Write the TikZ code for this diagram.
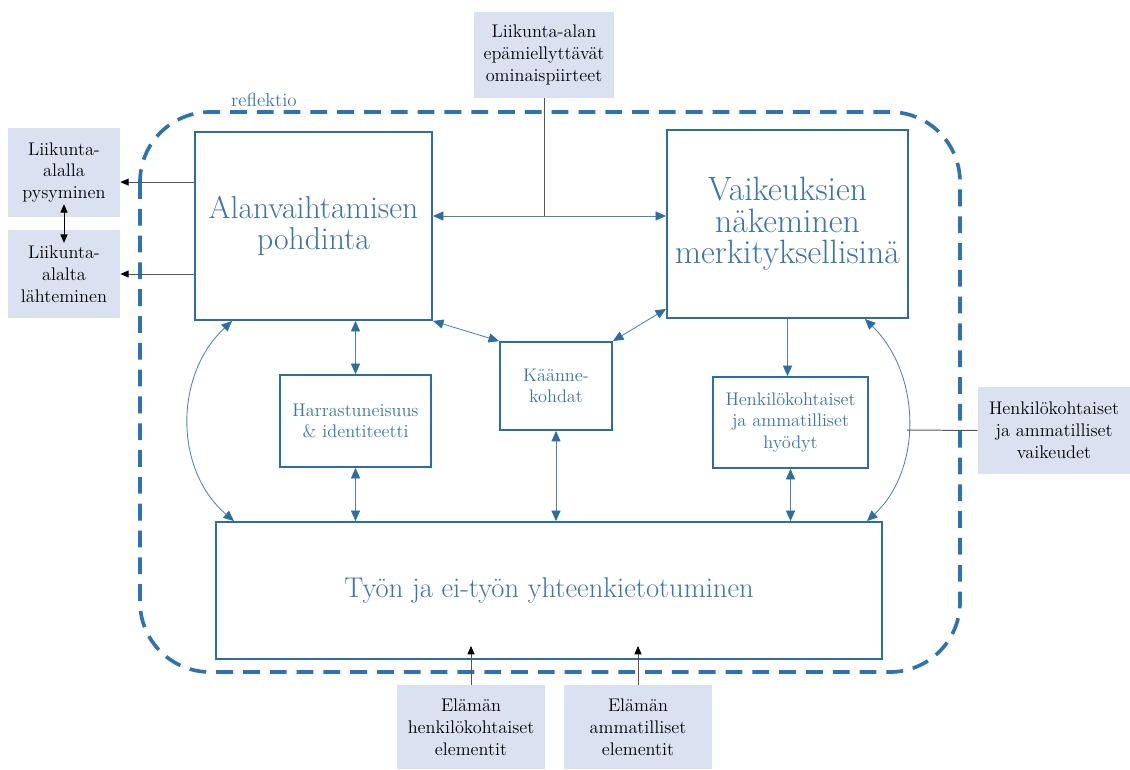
\documentclass[tikz,border=0pt]{standalone}
\usepackage{xcolor}
\definecolor{mapBlue}{HTML}{2E6DA4}
\definecolor{mapBlueText}{HTML}{3A74AA}
\definecolor{mapBlueLine}{HTML}{4A82B8}
\definecolor{mapFrame}{HTML}{2F72B0}
\definecolor{mapSide}{HTML}{DAE2F1}
\definecolor{mapGray}{HTML}{555555}
\usepackage{tikz}
\usetikzlibrary{arrows.meta,calc,positioning}

\begin{document}
\begin{tikzpicture}[x=0.025cm,y=-0.025cm]
  \tikzset{
    mainbox/.style={
      draw=mapBlue,
      line width=1.3pt,
      fill=white,
      text=mapBlueText,
      align=center,
      inner sep=0pt,
    },
    sidebox/.style={
      fill=mapSide,
      text=black,
      align=center,
      inner sep=0pt,
      font=\fontsize{13}{15.5}\selectfont,
    },
    bluearrow/.style={
      draw=mapBlueLine,
      line width=0.6pt,
      {Triangle[length=7.5pt,width=6.5pt,mapBlue]}-{Triangle[length=7.5pt,width=6.5pt,mapBlue]},
    },
    blueone/.style={
      draw=mapBlueLine,
      line width=0.6pt,
      -{Triangle[length=7.5pt,width=6.5pt,mapBlue]},
    },
    blackarrow/.style={
      draw=mapGray,
      line width=0.7pt,
      -{Triangle[length=6pt,width=5pt,black]},
    },
    blackboth/.style={
      draw=black,
      line width=0.7pt,
      {Triangle[length=6pt,width=5pt,black]}-{Triangle[length=6pt,width=5pt,black]},
    },
    grayline/.style={
      draw=mapGray,
      line width=0.7pt,
    },
    reflframe/.style={
      draw=mapFrame,
      line width=2.6pt,
      rounded corners=1.75cm,
      dash pattern=on 0.42cm off 0.25cm,
    },
  }

  \path[use as bounding box] (0,0) rectangle (1130,769);

  % reflection frame
  \draw[reflframe] (140,112) rectangle (960,672);
  \node[font=\fontsize{13.5}{15}\selectfont,text=mapBlueText] (refl) at (264,100) {reflektio};

  % main boxes
  \node[mainbox,minimum width=5.925cm,minimum height=4.7cm,
    font=\fontsize{22.5}{21.5}\selectfont] (alan) at (313.5,226)
    {Alanvaihtamisen\\pohdinta};
  \node[mainbox,minimum width=6.025cm,minimum height=4.7cm,
    font=\fontsize{24}{22.5}\selectfont] (vaik) at (787.5,224)
    {Vaikeuksien\\näkeminen\\merkityksellisinä};
  \node[mainbox,minimum width=3.775cm,minimum height=2.3cm,
    font=\fontsize{13}{15}\selectfont] (harr) at (355.5,421)
    {Harrastuneisuus\\\& identiteetti};
  \node[mainbox,minimum width=2.8cm,minimum height=2.2cm,
    font=\fontsize{13}{15}\selectfont] (kaan) at (556,386)
    {Käänne-\\kohdat};
  \node[mainbox,minimum width=3.875cm,minimum height=2.275cm,
    font=\fontsize{13}{15}\selectfont] (hyod) at (790.5,422.5)
    {Henkilökohtaiset\\ja ammatilliset\\hyödyt};
  \node[mainbox,minimum width=16.65cm,minimum height=3.425cm,
    font=\fontsize{20.3}{22}\selectfont] (tyon) at (549,590.5)
    {Työn ja ei-työn yhteenkietotuminen};

  % outside factors
  \node[sidebox,minimum width=3.5cm,minimum height=2.15cm] (top) at (544,55)
    {Liikunta-alan\\epämiellyttävät\\ominaispiirteet};
  \node[sidebox,minimum width=2.8cm,minimum height=2.225cm] (stay) at (64,172.5)
    {Liikunta-\\alalla\\pysyminen};
  \node[sidebox,minimum width=2.8cm,minimum height=2.2cm] (leave) at (64,274)
    {Liikunta-\\alalta\\lähteminen};
  \node[sidebox,minimum width=3.8cm,minimum height=2.175cm] (vaikeudet) at (1054,430.5)
    {Henkilökohtaiset\\ja ammatilliset\\vaikeudet};
  \node[sidebox,minimum width=3.7cm,minimum height=2.1cm] (elem1) at (471,727)
    {Elämän\\henkilökohtaiset\\elementit};
  \node[sidebox,minimum width=3.7cm,minimum height=2.1cm] (elem2) at (638,727)
    {Elämän\\ammatilliset\\elementit};

  \coordinate (mid) at (top.south |- 0,216);
  \coordinate (s1) at ([yshift=-0.24cm]stay.east);
  \coordinate (rc) at (907,430);

  % connectors
  \draw[grayline] (top.south) -- (mid);
  \draw[bluearrow] (alan.east |- mid) -- (vaik.west |- mid);
  \draw[blackarrow] (alan.west |- s1) -- (s1);
  \draw[blackarrow] (alan.west |- leave.east) -- (leave.east);
  \draw[blackboth,shorten >=-0.33cm,shorten <=-0.33cm] (stay.south) -- (leave.north);

  \draw[bluearrow] (harr.north |- alan.south) -- (harr.north);
  \draw[bluearrow] (harr.south) -- (harr.south |- tyon.north);
  \draw[bluearrow] (alan.south east) -- (kaan.north west);
  \draw[bluearrow] (kaan.north east) -- ([yshift=0.25cm]vaik.south west);
  \draw[bluearrow] (kaan.south) -- (kaan.south |- tyon.north);
  \draw[blueone] (vaik.south) -- (vaik.south |- hyod.north);
  \draw[bluearrow] (hyod.south) -- (hyod.south |- tyon.north);

  \draw[bluearrow] ([xshift=0.95cm]alan.south west)
    .. controls (174,375) and (174,470) .. ([xshift=0.475cm]tyon.north west);
  \draw[bluearrow] ([xshift=-1.1cm]vaik.south east)
    .. controls (922,375) and (922,470) .. ([xshift=-0.4cm]tyon.north east);
  \draw[grayline] (vaikeudet.west) -- (rc);

  \draw[blackarrow,shorten >=-0.35cm] (elem1.north) -- (elem1.north |- tyon.south);
  \draw[blackarrow,shorten >=-0.35cm] (elem2.north) -- (elem2.north |- tyon.south);
\end{tikzpicture}
\end{document}
